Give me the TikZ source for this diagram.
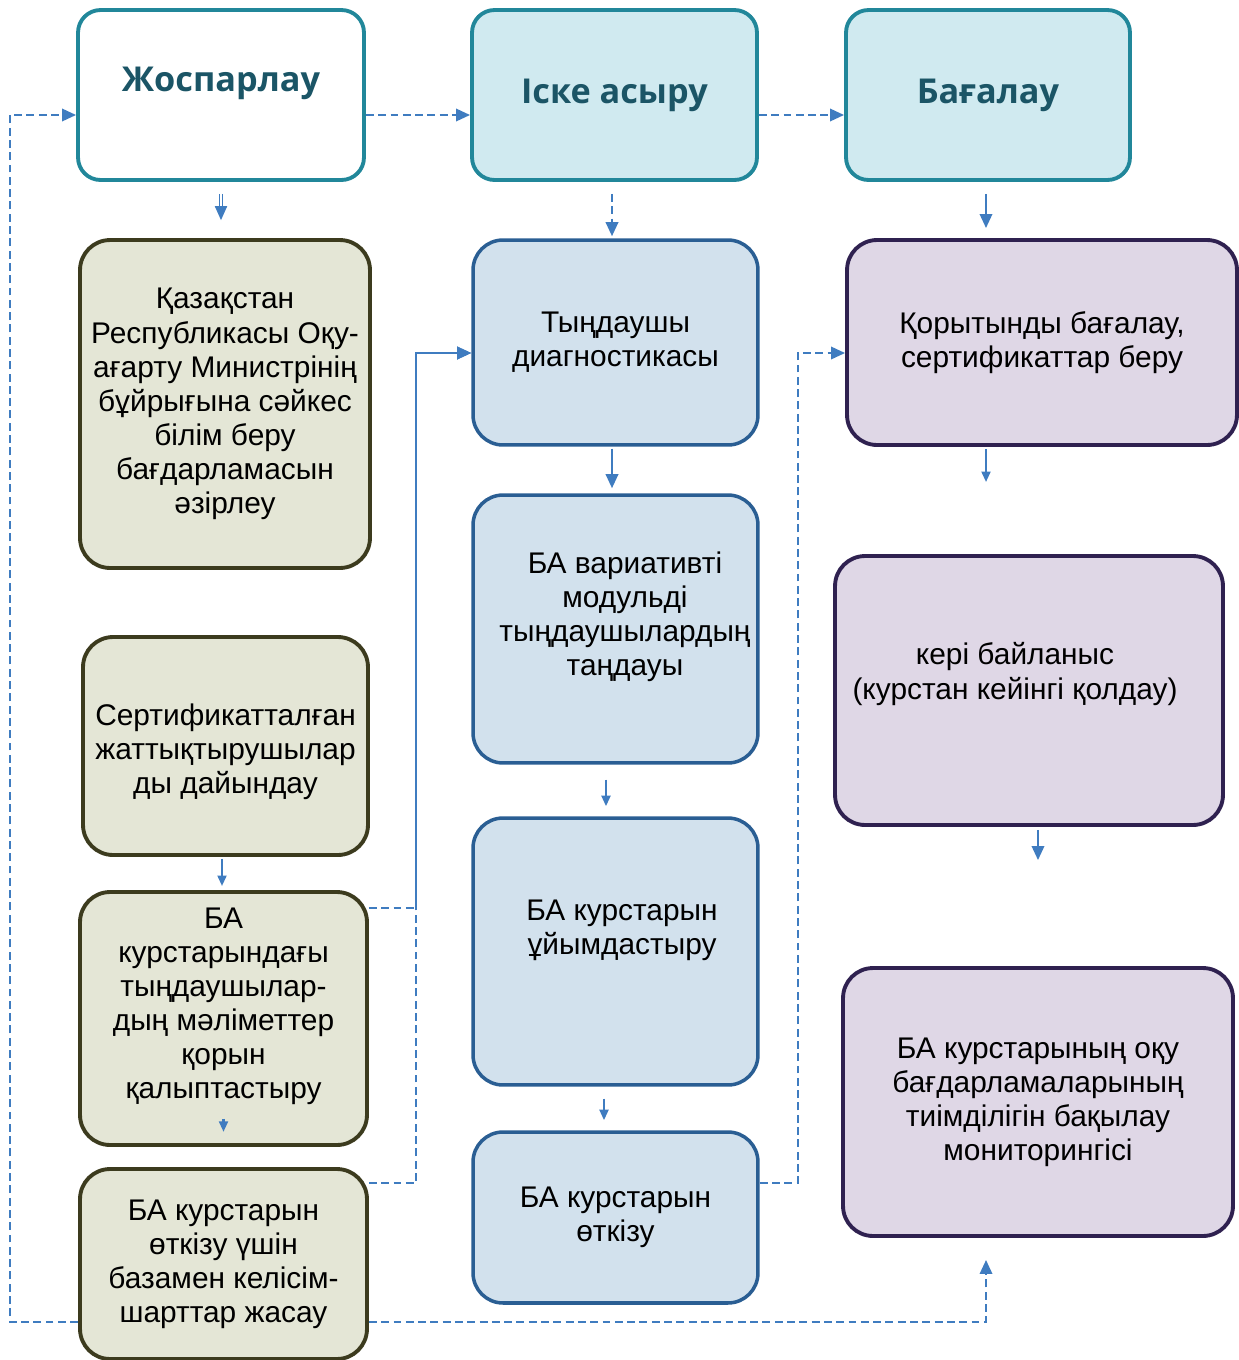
\documentclass[tikz,border=0pt]{standalone}
\usepackage{fontspec}
\setmainfont{Liberation Sans}
\newfontfamily\headfont{Open Sans}
\usepackage{xcolor}
\usepackage{tikz}
\usetikzlibrary{arrows.meta}
\usetikzlibrary{calc}
\usetikzlibrary{positioning}
\tikzset{>={Triangle[length=8pt,width=7pt]}}

\definecolor{phaseline}{HTML}{21879A}
\definecolor{phasefill}{HTML}{D0EAF0}
\definecolor{headtext}{HTML}{1B5566}
\definecolor{planfill}{HTML}{E4E6D6}
\definecolor{planline}{HTML}{3C3B1E}
\definecolor{implfill}{HTML}{D2E1ED}
\definecolor{implline}{HTML}{2A5E93}
\definecolor{evalfill}{HTML}{DFD7E6}
\definecolor{evalline}{HTML}{2F2150}
\definecolor{linkblue}{HTML}{3F7CC0}

\tikzset{
    head/.style={font=\headfont\bfseries\fontsize{19.5}{24}\selectfont, text=headtext},
    txt/.style={font=\fontsize{17}{19.4}\selectfont, align=center},
    phase/.style={draw=phaseline, fill=phasefill, line width=2.2pt, rounded corners=0.45cm, minimum height=3.4cm},
    planbox/.style={draw=planline, fill=planfill, line width=2.2pt, rounded corners=0.6cm},
    implbox/.style={draw=implline, fill=implfill, line width=2pt, rounded corners=0.6cm, minimum width=5.7cm},
    evalbox/.style={draw=evalline, fill=evalfill, line width=2.2pt, rounded corners=0.6cm, minimum width=7.8cm},
    link/.style={draw=linkblue, line width=1.4pt},
    dashlink/.style={link, dash pattern=on 4.5pt off 2.5pt},
    small/.style={>={Triangle[length=6pt,width=5pt]}}
}

\begin{document}
\begin{tikzpicture}[x=0.02cm, y=-0.02cm]
    \useasboundingbox (0,0) rectangle (1239,1360);

    \node[phase, fill=white, minimum width=5.72cm, label={[head, yshift=0.24cm]center:Жоспарлау}] (plan) at (221,95) {};
    \node[phase, minimum width=5.7cm, head] (impl) at (614.5,95) {Іске асыру};
    \node[phase, minimum width=5.68cm, head] (eval) at (988,95) {Бағалау};

    \node[planbox, minimum width=5.8cm, minimum height=6.56cm, txt] (prog) at (225,404) {Қазақстан\\Республикасы Оқу-\\ағарту Министрінің\\бұйрығына сәйкес\\білім беру\\бағдарламасын\\әзірлеу};
    \node[planbox, minimum width=5.7cm, minimum height=4.36cm, label={[txt, yshift=-0.12cm]center:{Сертификатталған\\жаттықтырушылар\\ды дайындау}}] (train) at (225.5,746) {};
    \node[planbox, minimum width=5.74cm, minimum height=5.06cm, label={[txt, yshift=0.24cm]center:{БА\\курстарындағы\\тыңдаушылар-\\дың мәліметтер\\қорын\\қалыптастыру}}] (data) at (223.5,1018.5) {};
    \node[planbox, minimum width=5.74cm, minimum height=3.8cm, txt] (base) at (223.5,1264) {БА курстарын\\өткізу үшін\\базамен келісім-\\шарттар жасау};

    \node[implbox, minimum height=4.1cm, txt] (diag) at (615.5,342.5) {Тыңдаушы\\диагностикасы};
    \node[implbox, minimum height=5.36cm, label={[txt, xshift=0.19cm, yshift=0.25cm]center:{БА вариативті\\модульді\\тыңдаушылардың\\таңдауы}}] (choice) at (615.5,629) {};
    \node[implbox, minimum height=5.34cm, label={[txt, xshift=0.13cm, yshift=0.43cm]center:{БА курстарын\\ұйымдастыру}}] (org) at (615.5,951.5) {};
    \node[implbox, minimum height=3.42cm, txt] (run) at (615.5,1217.5) {БА курстарын\\өткізу};

    \node[evalbox, minimum height=4.1cm, txt] (final) at (1042,342.5) {Қорытынды бағалау,\\сертификаттар беру};
    \node[evalbox, minimum width=7.76cm, minimum height=5.38cm, label={[txt, xshift=-0.28cm, yshift=0.33cm]center:{кері байланыс\\(курстан кейінгі қолдау)}}] (feedback) at (1029,690.5) {};
    \node[evalbox, minimum height=5.36cm, txt] (monitor) at (1038,1102) {БА курстарының оқу\\бағдарламаларының\\тиімділігін бақылау\\мониторингісі};

    \draw[dashlink, ->] ([yshift=-0.4cm]plan.east) -- ([yshift=-0.4cm]impl.west);
    \draw[dashlink, ->] ([yshift=-0.4cm]impl.east) -- ([yshift=-0.4cm]eval.west);
    \draw[dashlink, ->] ([yshift=-1.16cm]base.west) -- ++(-68,0) |- ([yshift=-0.4cm]plan.west);
    \draw[dashlink, ->] ([yshift=-1.16cm]base.east) -| ([xshift=-1.04cm, yshift=-0.44cm]monitor.south);
    \draw[dashlink, ->] ([yshift=2.21cm]data.east) -- ++(47,0) |- ([yshift=-0.21cm]diag.west);
    \draw[dashlink, ->] ([yshift=1.62cm]base.east) -- ++(47,0) |- ([yshift=-0.21cm]diag.west);
    \draw[dashlink, ->] ([yshift=0.69cm]run.east) -- ++(38,0) |- ([yshift=-0.21cm]final.west);

    \draw[link, line width=0.6pt, double=white, double distance=1.2pt, ->, shorten <=0.24cm, shorten >=0.36cm] (plan.south) -- (plan.south |- prog.north);
    \draw[dashlink, ->, shorten <=0.24cm, shorten >=0.04cm] ([xshift=-0.05cm]impl.south) -- ([xshift=-0.05cm]impl.south |- diag.north);
    \draw[link, ->, shorten <=0.24cm, shorten >=0.2cm] ([xshift=-0.04cm]eval.south) -- ([xshift=-0.04cm]eval.south |- final.north);
    \draw[link, ->, shorten <=0.04cm, shorten >=0.1cm] ([xshift=-0.07cm]diag.south) -- ([xshift=-0.07cm]choice.north);
    \draw[link, small, ->, shorten <=0.3cm, shorten >=0.2cm] ([xshift=-0.19cm]choice.south) -- ([xshift=-0.19cm]org.north);
    \draw[link, small, ->, shorten <=0.24cm, shorten >=0.2cm] ([xshift=-0.23cm]org.south) -- ([xshift=-0.23cm]run.north);
    \draw[link, small, ->, shorten <=0.04cm, shorten >=1.44cm] ([xshift=-1.12cm]final.south) -- ([xshift=-1.12cm]final.south |- feedback.north);
    \draw[link, ->, shorten <=0.06cm, shorten >=2.12cm] (feedback.south -| monitor.north) -- (monitor.north);
    \draw[link, small, ->, shorten <=0.04cm, shorten >=0.08cm] ([xshift=-0.07cm]train.south) -- ([xshift=-0.07cm]train.south |- data.north);
    \draw[link, small, ->] ([yshift=0.56cm]data.south) -- ([yshift=0.3cm]data.south);
\end{tikzpicture}
\end{document}
